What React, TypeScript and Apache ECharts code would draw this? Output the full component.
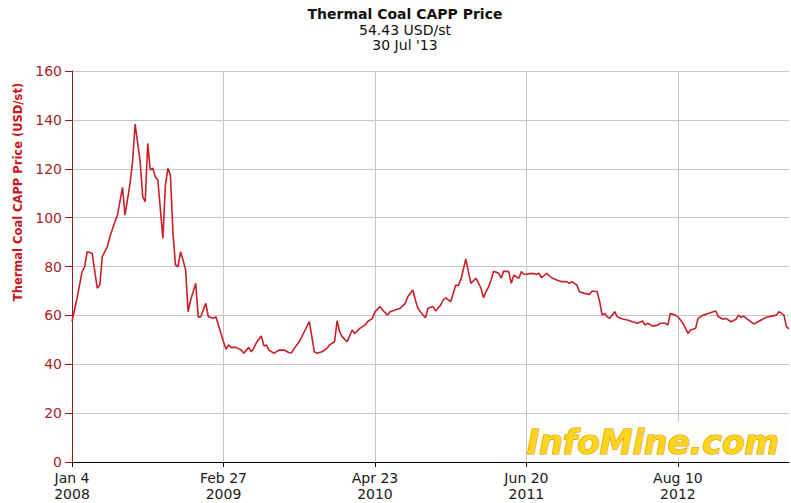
import React, { useEffect, useRef } from "react";
import * as echarts from "echarts";

// Weekly thermal coal (Central Appalachia) price, USD per short ton.
// Week index counts weeks from Jan 4 2008.
const weeks = [
  0, 2, 4, 5, 6, 8, 10, 11, 12, 14, 15, 17, 18, 20, 21, 23, 24, 25, 27, 28, 29, 30, 31, 32, 33, 34,
  36, 37, 38, 39, 40, 41, 42, 43, 44, 45, 46, 47, 49, 50, 51, 53, 54, 56, 57, 59, 60, 61, 62, 63,
  65, 67, 68, 70, 71, 72, 73, 75, 76, 77, 78, 80, 82, 84, 86, 87, 88, 90, 92, 94, 95, 96, 97, 99,
  101, 102, 104, 105, 106, 107, 109, 111, 112, 114, 116, 117, 119, 120, 122, 123, 125, 126, 128,
  130, 132, 133, 135, 136, 137, 138, 140, 141, 143, 144, 146, 147, 148, 150, 152, 153, 154, 156,
  157, 158, 160, 162, 163, 164, 165, 166, 167, 169, 170, 171, 173, 174, 175, 177, 178, 179, 180,
  182, 184, 185, 186, 188, 190, 192, 194, 196, 197, 198, 200, 201, 203, 205, 206, 208, 209, 210,
  211, 212, 213, 215, 216, 218, 220, 222, 224, 226, 227, 228, 230, 232, 233, 235, 236, 237, 239,
  240, 242, 244, 245, 246, 247, 248, 250, 252, 254, 255, 256, 258, 259, 261, 263, 264, 265, 266,
  268, 270, 271, 273, 275, 277, 279, 280, 282, 283, 284,
];

const prices = [
  57.5, 67, 77.9, 79.9, 86, 85.4, 71.1, 72.4, 84, 88.1, 92.2, 98.3, 101, 112.4, 101, 114, 122.9,
  138.3, 122.9, 108.6, 106.5, 130.4, 119.5, 120.2, 116.7, 115.4, 91.5, 113.3, 120.2, 117.4, 93.6,
  80.6, 79.9, 86, 82.6, 78.6, 61.5, 66.3, 73.1, 59.4, 59.4, 64.9, 59.4, 58.8, 59.4, 52.6, 49.2,
  46.1, 47.9, 46.9, 46.9, 45.8, 44.5, 46.9, 45.1, 46.5, 48.8, 51.6, 47.5, 47.9, 45.8, 44.5, 45.8,
  45.8, 44.7, 44.7, 46.5, 49.2, 53.3, 57.4, 51.3, 45.1, 44.5, 45.1, 46.5, 47.9, 49.2, 57.8, 53.3,
  51.3, 49.2, 54, 52.6, 54.7, 56, 57.4, 58.8, 61.5, 63.6, 62.2, 60.1, 61.5, 62.2, 62.9, 64.9, 67.6,
  70.4, 66.3, 62.9, 61.5, 59.0, 62.9, 63.6, 61.8, 64.2, 66.3, 67.2, 65.6, 72.4, 72.1, 74.5, 83.1,
  77.9, 73.1, 75.2, 71.1, 67.2, 69.7, 71.7, 74.5, 78.1, 77.2, 75.2, 78.1, 77.9, 73.1, 76.5, 75.2,
  77.9, 76.8, 76.8, 77.2, 76.8, 77.2, 75.4, 77.2, 75.4, 74.5, 73.8, 73.8, 73.1, 73.8, 72.4, 69.7,
  69.0, 68.6, 70, 69.7, 65.6, 60.1, 60.8, 59.4, 58.8, 61.5, 59.4, 58.5, 58.1, 57.4, 56.8, 57.7, 56,
  56.8, 55.6, 56, 56.8, 56.8, 56, 60.8, 60.1, 59.4, 56.8, 52.6, 54.0, 54.3, 54.7, 58.8, 60.1, 60.8,
  61.5, 61.8, 59.4, 58.4, 58.8, 57.4, 58.4, 60.1, 59.2, 59.7, 58.1, 56.5, 57.0, 58.1, 59.2, 59.7,
  60.1, 61.5, 60.1, 55.4, 54.43,
];

// Date labels shown every 60 weeks along the time axis.
const tickWeeks = [0, 60, 120, 180, 240];
const tickDates = ["Jan 4", "Feb 27", "Apr 23", "Jun 20", "Aug 10"];
const tickYears = ["2008", "2009", "2010", "2011", "2012"];

const titleText = "Thermal Coal CAPP Price";
const lastValueText = "54.43 USD/st";
const lastDateText = "30 Jul '13";
const yAxisTitle = "Thermal Coal CAPP Price (USD/st)";
const brandText = "InfoMine.com";

const FONT = "DejaVu Sans, Verdana, sans-serif";

export default function App() {
  const ref = useRef<HTMLDivElement>(null);

  useEffect(() => {
    if (!ref.current) return;
    const chart = echarts.init(ref.current, null, { renderer: "svg" });

    const data = weeks.map((w, i) => [w, prices[i]]);

    chart.setOption({
      animation: false,
      backgroundColor: "#ffffff",
      grid: { left: 72, right: 2, top: 71, bottom: 41, containLabel: false },
      xAxis: {
        type: "value",
        min: 0,
        max: 284,
        interval: 60,
        axisLine: { show: true, onZero: false, lineStyle: { color: "#000000", width: 1 } },
        axisTick: { show: true, length: 5, lineStyle: { color: "#000000" } },
        axisLabel: {
          color: "#1a1a1a",
          fontFamily: FONT,
          fontSize: 14,
          lineHeight: 16,
          margin: 8,
          showMaxLabel: false,
          formatter: (v: number) => {
            const k = tickWeeks.indexOf(Math.round(v));
            return k >= 0 ? `${tickDates[k]}\n${tickYears[k]}` : "";
          },
        },
        splitLine: {
          show: true,
          showMinLine: false,
          showMaxLine: false,
          lineStyle: { color: "#c6c6c6", width: 1 },
        },
      },
      yAxis: {
        type: "value",
        min: 0,
        max: 160,
        interval: 20,
        axisLine: { show: true, lineStyle: { color: "#9a1c1c", width: 1 } },
        axisTick: { show: true, length: 7, lineStyle: { color: "#9a1c1c" } },
        axisLabel: {
          color: "#a32626",
          fontFamily: FONT,
          fontSize: 14,
          margin: 10,
        },
        splitLine: {
          show: true,
          showMinLine: false,
          lineStyle: { color: "#c6c6c6", width: 1 },
        },
      },
      series: [
        {
          type: "line",
          data,
          showSymbol: false,
          symbol: "none",
          lineStyle: { color: "#c91f28", width: 1.6 },
          z: 3,
        },
      ],
      graphic: [
        {
          type: "text",
          style: {
            text: titleText,
            x: 405,
            y: 14,
            align: "center",
            verticalAlign: "middle",
            font: `bold 14px ${FONT}`,
            fill: "#111111",
          },
        },
        {
          type: "text",
          style: {
            text: lastValueText,
            x: 405,
            y: 30,
            align: "center",
            verticalAlign: "middle",
            font: `14px ${FONT}`,
            fill: "#111111",
          },
        },
        {
          type: "text",
          style: {
            text: lastDateText,
            x: 405,
            y: 45,
            align: "center",
            verticalAlign: "middle",
            font: `14px ${FONT}`,
            fill: "#111111",
          },
        },
        {
          type: "text",
          x: 18,
          y: 192,
          rotation: Math.PI / 2,
          style: {
            text: yAxisTitle,
            x: 0,
            y: 0,
            align: "center",
            verticalAlign: "middle",
            font: `bold 11.5px ${FONT}`,
            fill: "#c8161d",
          },
        },
        {
          type: "rect",
          z: 10,
          shape: { x: 528, y: 422, width: 260, height: 36 },
          style: { fill: "#fdfdf9" },
        },
        {
          type: "text",
          z: 12,
          x: 527,
          y: 442,
          style: {
            text: brandText,
            x: 0,
            y: 0,
            align: "left",
            verticalAlign: "middle",
            font: `italic bold 33px ${FONT}`,
            fill: "#ffd41e",
            stroke: "#d29b00",
            lineWidth: 1.2,
            shadowColor: "rgba(110,100,70,0.55)",
            shadowBlur: 1,
            shadowOffsetX: 2,
            shadowOffsetY: 2,
          },
        },
      ],
    });

    return () => chart.dispose();
  }, []);

  return (
    <div
      ref={ref}
      style={{ position: "fixed", left: 0, top: 0, width: 791, height: 503 }}
    />
  );
}
